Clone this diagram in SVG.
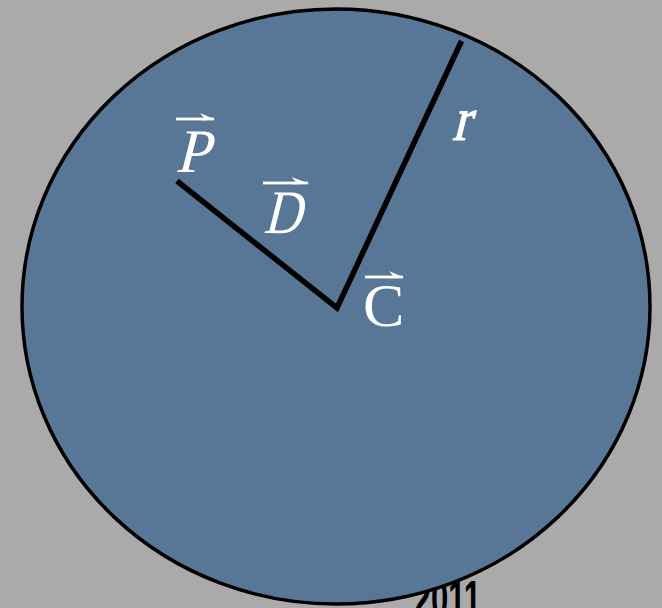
<svg xmlns="http://www.w3.org/2000/svg" width="662" height="608" viewBox="0 0 662 608">
<style>
.lbl{font-family:'Liberation Serif','Times New Roman',serif;font-size:62px;fill:#ffffff}
.vec{fill:#ffffff}
.ray{fill:none;stroke:#000000;stroke-width:5.5;stroke-linejoin:miter;stroke-linecap:butt}
</style>
<defs>
<g id="harpoon">
<rect x="0" y="-1.4" width="38" height="2.8"/>
<polygon points="24,-6 39,0.5 25,1.4 28,-1"/>
</g>
</defs>
<rect width="662" height="608" fill="#aaaaaa"/>
<text id="footer" x="0" y="616" transform="translate(481,0) scale(0.62,1)" text-anchor="end" font-family="'Liberation Sans', Arial, sans-serif" font-weight="bold" font-size="50" fill="#000000">2011</text>
<g id="circle">
<ellipse cx="336" cy="306.5" rx="314" ry="297.5" fill="#587696" stroke="#000000" stroke-width="3.5"/>
</g>
<g id="connectors">
<polyline class="ray" points="177,181 337,308 461.5,41"/>
</g>
<g id="P">
<use href="#harpoon" class="vec" transform="translate(176,119)"/>
<text class="lbl" x="0" y="0" transform="translate(175,172) skewX(-14)">P</text>
</g>
<g id="D">
<use href="#harpoon" class="vec" transform="translate(263,183) scale(1.18,1)"/>
<text class="lbl" x="0" y="0" transform="translate(263,233) skewX(-14) scale(0.85,1)">D</text>
</g>
<g id="C">
<use href="#harpoon" class="vec" transform="translate(365,277)"/>
<text class="lbl" x="363" y="326">C</text>
</g>
<g id="r">
<text class="lbl" x="0" y="0" transform="translate(452,140) skewX(-14) scale(0.85,1)" stroke="#ffffff" stroke-width="1.2">r</text>
</g>
</svg>
